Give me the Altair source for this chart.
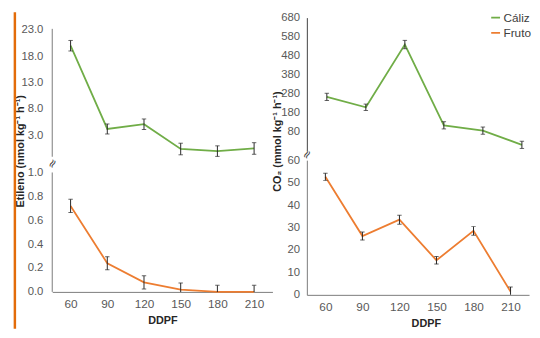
import altair as alt
import pandas as pd

# ---------------- data ----------------
ddpf = [60, 90, 120, 150, 180, 210]
series = ["Cáliz", "Fruto"]

etileno_caliz = [20.0, 4.2, 5.1, 0.4, 0.0, 0.5]
etileno_caliz_err = [1.0, 0.95, 1.0, 1.1, 1.0, 1.1]
etileno_fruto = [0.72, 0.24, 0.08, 0.02, 0.0, 0.0]
etileno_fruto_err = [0.055, 0.055, 0.055, 0.055, 0.055, 0.055]

co2_caliz = [262, 207, 538, 112, 84, 9]
co2_caliz_err = [19, 17, 22, 19, 19, 19]
co2_fruto = [52.6, 26.2, 33.5, 15.4, 28.5, 1.5]
co2_fruto_err = [1.6, 1.8, 2.0, 1.7, 1.9, 2.0]

eti_top_ticks = [3, 8, 13, 18, 23]
eti_bot_ticks = [0, 0.2, 0.4, 0.6, 0.8, 1.0]
co2_top_ticks = [80, 180, 280, 380, 480, 580, 680]
co2_bot_ticks = [0, 10, 20, 30, 40, 50, 60]

# ---------------- styling ----------------
GREEN = "#70AD47"
ORANGE = "#ED7D31"
ERR = "#262626"
AXC = "#7A7A7A"
LAB = "#595959"
FONT = "Liberation Sans Narrow, Arial Narrow, Liberation Sans, Arial, sans-serif"

color_scale = alt.Scale(domain=series, range=[GREEN, ORANGE])
legend = alt.Legend(title=None, orient="none", legendX=445, legendY=-6,
                    symbolType="stroke", symbolSize=81, symbolStrokeWidth=1.8,
                    labelFont="Liberation Sans", labelFontSize=12, labelColor="#404040",
                    rowPadding=3.5, labelOffset=2, padding=0)


def frame(vals, errs, serie):
    return pd.DataFrame({
        "x": ddpf,
        "v": vals,
        "lo": [a - b for a, b in zip(vals, errs)],
        "hi": [a + b for a, b in zip(vals, errs)],
        "serie": [serie] * len(ddpf),
    })


one = pd.DataFrame({"k": [0]})


def panel(df, xdom, ydom, w, h, yaxis, xaxis, clip, extras=()):
    xs = alt.Scale(domain=xdom, nice=False, zero=False)
    ys = alt.Scale(domain=ydom, nice=False, zero=False)

    def X():
        return alt.X("x:Q", scale=xs, axis=xaxis)

    def Y(f):
        return alt.Y(f, scale=ys, axis=yaxis)

    line = alt.Chart(df).mark_line(strokeWidth=1.8).encode(
        x=X(), y=Y("v:Q"),
        color=alt.Color("serie:N", scale=color_scale, legend=legend),
    )
    bar = alt.Chart(df).mark_rule(color=ERR, strokeWidth=1, clip=clip).encode(
        x=X(), y=Y("lo:Q"), y2="hi:Q",
    )
    cap_lo = alt.Chart(df).mark_tick(orient="horizontal", size=4.5, thickness=1,
                                     color=ERR, clip=clip).encode(x=X(), y=Y("lo:Q"))
    cap_hi = alt.Chart(df).mark_tick(orient="horizontal", size=4.5, thickness=1,
                                     color=ERR, clip=clip).encode(x=X(), y=Y("hi:Q"))
    layers = [line, bar, cap_lo, cap_hi] + [e(ys, yaxis) for e in extras]
    return alt.layer(*layers).properties(width=w, height=h)


def x_axis(title_x=None):
    kw = dict(values=ddpf, format="d", ticks=False, grid=False, labelPadding=7,
              labelFontSize=12, labelFlush=False, title="DDPF", titleY=29.5,
              titleBaseline="middle", domainColor=AXC)
    if title_x is not None:
        kw["titleX"] = title_x
    return alt.Axis(**kw)


def axis_line(lo, hi):
    def make(ys, yaxis):
        return alt.Chart(one).mark_rule(color=AXC, strokeWidth=1).encode(
            x=alt.value(0),
            y=alt.YDatum(lo, scale=ys, axis=yaxis),
            y2=alt.Y2Datum(hi),
        )
    return make


def break_mark(ypix):
    def make(ys, yaxis):
        return alt.Chart(one).mark_text(text="≈", angle=300, fontSize=12,
                                        color="#404040", font="DejaVu Sans").encode(
            x=alt.value(0), y=alt.value(ypix))
    return make


def side_bar(ys, yaxis):
    return alt.Chart(one).mark_rule(color="#E36C09", strokeWidth=2.5).encode(
        x=alt.value(-38), y=alt.value(-5.5), y2=alt.value(316.5))


# ---------------- panels ----------------
left_top = panel(
    frame(etileno_caliz, etileno_caliz_err, "Cáliz"),
    [45, 225], [-1.72, 25.33], 224, 145,
    alt.Axis(values=eti_top_ticks, format=".1f", domain=False, ticks=False, grid=False,
             labelPadding=9.5, title="Etileno (nmol kg⁻¹ h⁻¹)", titleX=-32, titleY=135.5,
             titleAngle=270, titleAlign="center", titleBaseline="middle"),
    None, False,
    extras=(axis_line(-1.07, 23.2), side_bar),
)

right_top = panel(
    frame(co2_caliz, co2_caliz_err, "Cáliz"),
    [44.65, 215.5], [-20, 680], 226, 135,
    alt.Axis(values=co2_top_ticks, format="d", ticks=False, grid=False, labelPadding=7.5,
             domainColor="#404040",
             title="CO₂ (mmol kg⁻¹ h⁻¹)", titleX=-30, titleY=125.5,
             titleAngle=270, titleAlign="center", titleBaseline="middle"),
    None, False,
    extras=(break_mark(139),),
)

left_bot = panel(
    frame(etileno_fruto, etileno_fruto_err, "Fruto"),
    [45, 225], [0, 1.103], 224, 134,
    alt.Axis(values=eti_bot_ticks, format=".1f", domain=False, ticks=False, grid=False,
             labelPadding=9.5, title=None),
    x_axis(), True,
    extras=(axis_line(0, 1.0), break_mark(3.5)),
)

right_bot = panel(
    frame(co2_fruto, co2_fruto_err, "Fruto"),
    [45, 225], [0, 60], 226, 137,
    alt.Axis(values=co2_bot_ticks, format="d", ticks=False, grid=False, labelPadding=7.5,
             domainColor=AXC, title=None),
    x_axis(121), True,
)

chart = alt.concat(
    left_top, right_top, left_bot, right_bot,
    columns=2, spacing={"row": 0, "column": 35}, bounds="flush",
).properties(
    padding={"left": 5, "top": 0, "right": 0, "bottom": 0},
    background="white",
).configure_view(
    stroke=None,
).configure_axis(
    labelFont=FONT, labelFontSize=11.5, labelColor=LAB,
    titleFont=FONT, titleFontSize=11, titleFontWeight="bold", titleColor="#262626",
    domainColor=AXC,
)

chart.save("out.html", embed_options={"renderer": "svg", "actions": False})
